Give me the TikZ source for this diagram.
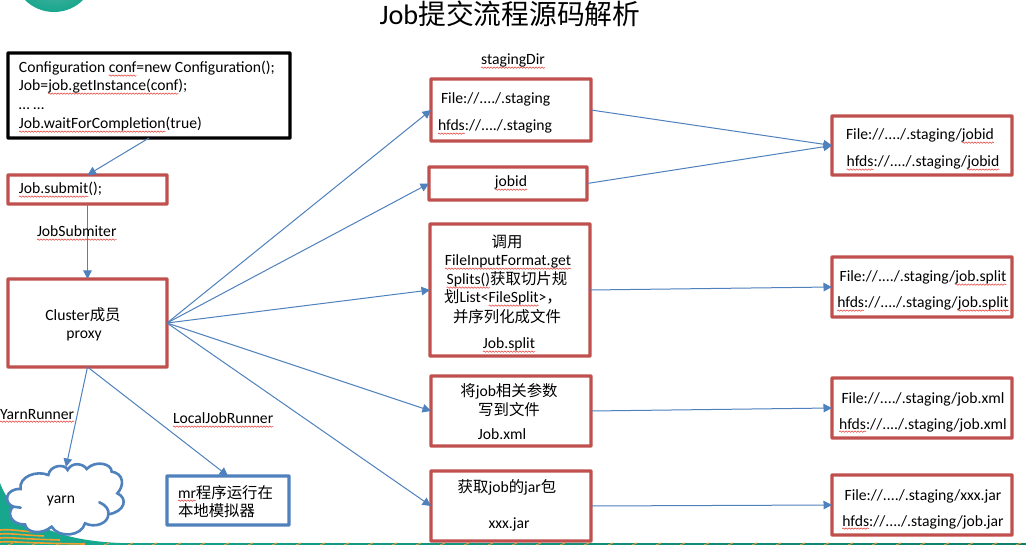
\documentclass[tikz,border=0pt]{standalone}
\usepackage{fontspec}
\setmainfont{Carlito}
\newfontfamily\cjkfam{Noto Sans CJK SC}[Scale=0.985]
\usetikzlibrary{arrows.meta,decorations.pathmorphing}
\definecolor{boxred}{HTML}{C0504D}
\definecolor{linkblue}{HTML}{4F81BD}
\definecolor{wavered}{HTML}{E8403A}
\definecolor{tealA}{HTML}{17A78D}
\definecolor{tealB}{HTML}{0E7F6B}
\definecolor{orangeA}{HTML}{F0A030}
\newcommand{\zh}[1]{{\cjkfam #1}}
\newlength{\wvlen}
\newsavebox{\wvbox}
\newcommand{\wv}[1]{\sbox{\wvbox}{#1}\setlength{\wvlen}{\wd\wvbox}\rlap{\tikz[overlay,baseline=0pt]\draw[wavered,line width=.55pt,decorate,decoration={snake,segment length=3pt,amplitude=.7pt}] (0pt,-2.6pt)--(\wvlen,-2.6pt);}\usebox{\wvbox}}
\tikzset{
  x=1pt,y=-1pt,
  redbox/.style={draw=boxred,line width=3.3pt,fill=white,rectangle,inner sep=0,outer sep=0,rounded corners=.5pt},
  blackbox/.style={redbox,draw=black},
  bluebox/.style={redbox,draw=linkblue},
  link/.style={draw=linkblue,line width=1pt,-{Triangle[length=8.5pt,width=8.5pt]}},
  txt/.style={anchor=base,inner sep=0,outer sep=0,font=\fontsize{15.65}{18}\selectfont},
  txl/.style={txt,anchor=base west},
  cloudline/.style={draw=linkblue,line width=2.6pt,line cap=round},
}
\begin{document}
\begin{tikzpicture}
\useasboundingbox (0,0) rectangle (1026,545);
\begin{scope}
\clip (0,0) rectangle (1026,545);
\fill[white] (0,0) rectangle (1026,545);
% slide decoration
\shade[inner color=tealA!55!white!90!black,outer color=tealA] (54,-29) circle (41);
\fill[left color=tealA,right color=tealB] (0,543) rectangle (1026,545);
\fill[tealA] (0,483) .. controls (12,515) and (45,540) .. (120,543) -- (120,545) -- (0,545) -- cycle;
\foreach \yy/\xe in {530/34,534/44,538/60,542/85}
  \draw[orangeA,line width=1.6pt] (0,\yy) .. controls (10,\yy-1) and (20,\yy+1) .. (\xe,\yy+2);
\foreach \xx in {8,32,...,1020}
  \draw[orangeA,line width=.8pt] (\xx,545) -- (\xx+5,543);
\end{scope}

% boxes
\node[blackbox,minimum width=282pt,minimum height=85pt] (conf) at (149,95.5) {};
\node[redbox,minimum width=159pt,minimum height=29pt] (submit) at (87.5,189.5) {};
\node[redbox,minimum width=159pt,minimum height=88pt] (cluster) at (87.5,323) {};
\node[bluebox,minimum width=122pt,minimum height=49pt] (mr) at (228,500.5) {};
\node[redbox,minimum width=160pt,minimum height=62pt] (b1) at (511,110) {};
\node[redbox,minimum width=158pt,minimum height=33pt] (b2) at (508,183.5) {};
\node[redbox,minimum width=160pt,minimum height=132pt] (b3) at (510,290) {};
\node[redbox,minimum width=160pt,minimum height=70pt] (b4) at (511,411) {};
\node[redbox,minimum width=160pt,minimum height=70pt] (b5) at (511,506) {};
\node[redbox,minimum width=180pt,minimum height=59pt] (r1) at (922,145.5) {};
\node[redbox,minimum width=180pt,minimum height=60pt] (r2) at (922,287) {};
\node[redbox,minimum width=180pt,minimum height=60pt] (r3) at (922,408) {};
\node[redbox,minimum width=180pt,minimum height=60pt] (r4) at (922,505) {};

% cloud
\begin{scope}[shift={(0,455)},x=.3333pt,y=-.3333pt]
\draw[cloudline,fill=white] (40,155) .. controls (10,145) and (15,100) .. (62,102)
  .. controls (55,65) and (110,45) .. (145,60)
  .. controls (150,30) and (195,25) .. (203,45)
  .. controls (215,20) and (250,25) .. (260,42)
  .. controls (285,15) and (335,25) .. (335,50)
  .. controls (370,55) and (375,90) .. (352,115)
  .. controls (385,130) and (375,170) .. (325,178)
  .. controls (325,205) and (285,220) .. (255,205)
  .. controls (245,245) and (175,250) .. (155,215)
  .. controls (125,240) and (80,235) .. (75,208)
  .. controls (30,210) and (20,170) .. (40,155) -- cycle;
\draw[cloudline] (40,155) -- (62,158);
\draw[cloudline] (298,142) .. controls (318,150) and (328,165) .. (325,178);
\end{scope}
\coordinate (cloudtop) at (66,467);
\node[txt] (yarn) at (61,503) {yarn};

% connectors
\draw[link] (conf.south) -- (submit.north);
\draw[link] (submit.south) -- (cluster.north);
\draw[link] (cluster.south) -- (cloudtop);
\draw[link] (cluster.south) -- (mr.north);
\draw[link] (cluster.east) -- (b1.west);
\draw[link] (cluster.east) -- (b2.west);
\draw[link] (cluster.east) -- (b3.west);
\draw[link] (cluster.east) -- (b4.west);
\draw[link] (cluster.east) -- (b5.west);
\draw[link] (b1.east) -- (r1.west);
\draw[link] (b2.east) -- (r1.west);
\draw[link] (b3.east) -- (r2.west);
\draw[link] (b4.east) -- (r3.west);
\draw[link] (b5.east) -- (r4.west);

% title
\node[txt,font=\fontsize{28.2}{32}\selectfont] (title) at (510,25) {Job\zh{提交流程源码解析}};

% left column
\node[txl] (c1) at (19,73) {Configuration \wv{conf}=new Configuration();};
\node[txl] (c2) at (19,91) {Job=\wv{job.getInstance(conf});};
\node[txl] (c3) at (19,110) {… …};
\node[txl] (c4) at (19,129) {\wv{Job.waitForCompletion}(true)};
\node[txl] (s1) at (19,194) {\wv{Job.submit}();};
\node[txl] (js) at (37,237) {\wv{JobSubmiter}};
\node[txt] (cl1) at (83,321) {Cluster\zh{成员}};
\node[txt] (cl2) at (84,339) {proxy};
\node[txl] (yr) at (0,419) {\wv{YarnRunner}};
\node[txl] (lr) at (173,424) {\wv{LocalJobRunner}};
\node[txl] (mr1) at (178,498) {\wv{mr}\zh{程序运行在}};
\node[txl] (mr2) at (178,516) {\zh{本地模拟器}};

% middle column
\node[txt] (sd) at (513,65) {\wv{stagingDir}};
\node[txl] (b1a) at (441,104) {File://..../.staging};
\node[txl] (b1b) at (438,131) {\wv{hfds}://..../.staging};
\node[txt] (b2a) at (511,187) {\wv{jobid}};
\node[txt] (b3a) at (507,248) {\zh{调用}};
\node[txt] (b3b) at (508,266) {\wv{FileInputFormat.get}};
\node[txt] (b3c) at (507,285) {\wv{Splits()}\zh{获取切片规}};
\node[txt] (b3d) at (503,303) {\zh{划}List<\wv{FileSplit}>\zh{，}};
\node[txt] (b3e) at (507,323) {\zh{并序列化成文件}};
\node[txt] (b3f) at (509,349) {\wv{Job.split}};
\node[txt] (b4a) at (509,397) {\zh{将}job\zh{相关参数}};
\node[txt] (b4b) at (509,416) {\zh{写到文件}};
\node[txt] (b4c) at (502,439) {Job.xml};
\node[txt] (b5a) at (507,492) {\zh{获取}job\zh{的}jar\zh{包}};
\node[txt] (b5b) at (509,528) {xxx.jar};

% right column
\node[txt] (r1a) at (920,140) {File://..../.staging/\wv{jobid}};
\node[txt] (r1b) at (923,167) {\wv{hfds}://..../.staging/\wv{jobid}};
\node[txt] (r2a) at (923,282) {File://..../.staging/\wv{job.split}};
\node[txt] (r2b) at (923,308) {\wv{hfds}://..../.staging/\wv{job.split}};
\node[txt] (r3a) at (923,403) {File://..../.staging/job.xml};
\node[txt] (r3b) at (923,429) {\wv{hfds}://..../.staging/job.xml};
\node[txt] (r4a) at (923,500) {File://..../.staging/xxx.jar};
\node[txt] (r4b) at (923,526) {\wv{hfds}://..../.staging/job.jar};
\end{tikzpicture}
\end{document}
